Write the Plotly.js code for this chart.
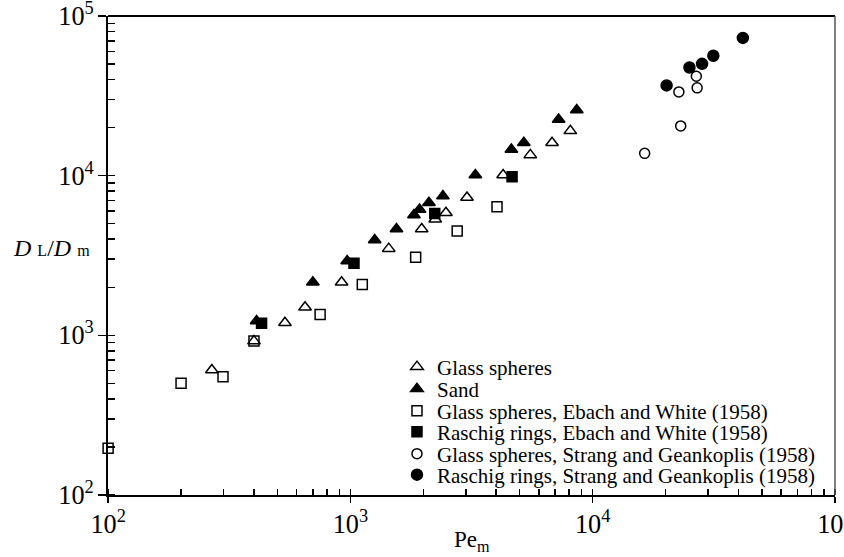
<!DOCTYPE html>
<html><head><meta charset="utf-8">
<script src="https://cdn.plot.ly/plotly-3.0.1.min.js"></script>
<style>html,body{margin:0;padding:0;background:#fff;}#chart{width:844px;height:557px;}</style>
</head><body><div id="chart"></div>
<script>
// ---- data ----
const seriesNames = [
  'Glass spheres',
  'Sand',
  'Glass spheres, Ebach and White (1958)',
  'Raschig rings, Ebach and White (1958)',
  'Glass spheres, Strang and Geankoplis (1958)',
  'Raschig rings, Strang and Geankoplis (1958)'
];
const glassPe = [268, 400, 537, 650, 920, 1440, 1970, 2240, 2480, 3030, 4270, 5530, 6800, 8090];
const glassDL = [606, 920, 1200, 1500, 2150, 3490, 4630, 5330, 5860, 7300, 10100, 13500, 16100, 19100];
const sandPe = [410, 700, 970, 1260, 1550, 1830, 1930, 2110, 2410, 3280, 4620, 5200, 7240, 8600];
const sandDL = [1230, 2150, 2920, 3950, 4630, 5670, 6150, 6770, 7450, 10100, 14600, 16100, 22500, 25800];
const ewGlassPe = [100, 200, 298, 400, 750, 1120, 1860, 2760, 4030];
const ewGlassDL = [196, 500, 550, 920, 1350, 2080, 3080, 4500, 6390];
const ewRaschigPe = [430, 1035, 2230, 4650];
const ewRaschigDL = [1190, 2830, 5800, 9850];
const sgGlassPe = [16400, 23100, 22700, 27000, 26800];
const sgGlassDL = [13800, 20500, 33500, 35500, 42000];
const sgRaschigPe = [20200, 25100, 28300, 31500, 41700];
const sgRaschigDL = [36800, 47600, 50200, 56400, 73000];
// axis range in decades (log10); tick labels 10^2 ... 10^5 are drawn by Plotly's power format
const axisDecades = [1.9995, 5.0005];

// ---- styling ----
const FONT = "'Liberation Serif', 'Times New Roman', serif";
const symbols = ['triangle-up-open', 'triangle-up', 'square-open', 'square', 'circle-open', 'circle'];
const sizes = [11, 11, 10, 10, 10, 11];
const legendIds = ['legend', 'legend2', 'legend3', 'legend4', 'legend5', 'legend6'];
const xs = [glassPe, sandPe, ewGlassPe, ewRaschigPe, sgGlassPe, sgRaschigPe];
const ys = [glassDL, sandDL, ewGlassDL, ewRaschigDL, sgGlassDL, sgRaschigDL];

const traces = seriesNames.map((name, i) => ({
  type: 'scatter', mode: 'markers', name: name,
  x: xs[i], y: ys[i], legend: legendIds[i], cliponaxis: false,
  marker: { symbol: symbols[i], size: sizes[i], color: 'black',
            line: { color: 'black', width: 1.5 } },
  hoverinfo: 'skip'
}));

const legendY = [0.2672, 0.2213, 0.1754, 0.1315, 0.0856, 0.0418];

function axis(majorLen, minorLen) {
  return {
    type: 'log', range: axisDecades, showgrid: false, zeroline: false,
    showline: true, linecolor: 'black', linewidth: 2,
    ticks: 'outside', ticklen: majorLen, tickwidth: 1.5, tickcolor: 'black',
    tickmode: 'linear', tick0: 0, dtick: 1, exponentformat: 'power',
    ticklabeloverflow: 'allow',
    tickfont: { family: FONT, size: 21, color: 'black' },
    minor: { ticks: 'inside', dtick: 'D1', ticklen: minorLen,
             tickwidth: 1.5, tickcolor: 'black', showgrid: false }
  };
}

const layout = {
  width: 844, height: 557,
  margin: { l: 108, r: 9, t: 16, b: 62 },
  paper_bgcolor: 'white', plot_bgcolor: 'white',
  font: { family: FONT, color: 'black' },
  showlegend: true,
  xaxis: axis(6, 6),
  yaxis: axis(8, 7),
  shapes: [
    { type: 'line', xref: 'paper', yref: 'paper', x0: 0, x1: 1, y0: 1, y1: 1, line: { color: 'black', width: 2 } },
    { type: 'line', xref: 'paper', yref: 'paper', x0: 1, x1: 1, y0: 0, y1: 1, line: { color: '#555', width: 1.5 } }
  ],
  annotations: [
    { xref: 'paper', yref: 'paper', x: -0.0777, y: 0.5157, xanchor: 'center', yanchor: 'middle', showarrow: false,
      text: '<i>D</i> <span style="font-size:16px">L</span>/<i>D</i> <span style="font-size:16px">m</span>',
      font: { family: FONT, size: 24, color: 'black' } },
    { xref: 'paper', yref: 'paper', x: 0.5003, y: -0.096, xanchor: 'center', yanchor: 'middle', showarrow: false,
      text: 'Pe<sub>m</sub>', font: { family: FONT, size: 23, color: 'black' } }
  ]
};
legendIds.forEach((id, i) => {
  layout[id] = { x: 0.3975, y: legendY[i], xanchor: 'left', yanchor: 'middle',
                 bgcolor: 'rgba(0,0,0,0)', borderwidth: 0, itemwidth: 30,
                 font: { family: FONT, size: 21, color: 'black' } };
});

Plotly.newPlot('chart', traces, layout, { staticPlot: true, displayModeBar: false });
</script>
</body></html>
